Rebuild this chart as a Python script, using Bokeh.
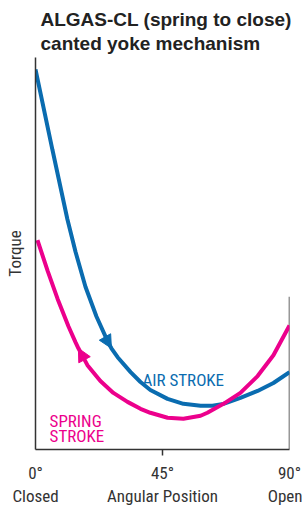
from bokeh.plotting import figure
from bokeh.models import Range1d, FixedTicker, Arrow, NormalHead, LinearAxis
from bokeh.core.properties import value
from bokeh.embed import file_html
from bokeh.resources import INLINE

# ---- data (angle in degrees, torque in arbitrary units) ----
air_angle = [0, 6.0, 11.3, 14.2, 17.7, 21.6, 25.9, 26.9, 29.1, 33.7, 37.2, 40.7,
             46.8, 52.4, 58.5, 62.7, 66.6, 72.6, 78.7, 84.3, 90]
air_torque = [383, 302, 232, 199, 164, 134, 107, 102, 93, 78, 68, 60,
              51, 46, 44, 44, 46, 52, 59, 67, 78]

spring_angle = [0.7, 4.3, 7.8, 11.7, 14.2, 15.2, 18.4, 23.0, 27.6, 32.6, 37.2, 40.7,
                46.8, 52.4, 58.5, 60.9, 66.6, 72.6, 78.7, 84.3, 90]
spring_torque = [211, 180, 152, 124, 108, 102, 85, 69, 57, 48, 41, 37,
                 32, 31, 34, 37, 46, 57, 74, 95, 125]

tick_positions = [0, 45, 90]
tick_degree_labels = ["0°", "45°", "90°"]
tick_name_labels = ["Closed", "Angular Position", "Open"]

title_text = "ALGAS-CL (spring to close)\ncanted yoke mechanism"
y_label = "Torque"
air_label = "AIR STROKE"
spring_label = ["SPRING", "STROKE"]

# ---- styling ----
BLUE = "#0a6cb0"
MAGENTA = "#ec008c"
DARK = "#333333"
NARROW = "Roboto Condensed, DejaVu Sans Condensed, Roboto"
TORQUE_MAX = 395
RIGHT_EDGE_TOP = 154

p = figure(width=302, height=508, output_backend="svg", toolbar_location=None,
           x_range=Range1d(0, 90), y_range=Range1d(0, TORQUE_MAX),
           min_border_left=35, min_border_right=13, min_border_top=57,
           min_border_bottom=56)
p.outline_line_color = None
p.xgrid.visible = False
p.ygrid.visible = False
p.background_fill_color = "white"
p.border_fill_color = "white"

# title
p.title.text = title_text
p.title.text_font = "Liberation Sans"
p.title.text_font_size = "19px"
p.title.text_font_style = "bold"
p.title.text_color = "#222222"
p.title.align = "left"
p.title.offset = 5
p.title.standoff = 6
p.title.text_line_height = 1.15

# x axis (degrees) with a single tick mark at 45
xa = p.xaxis[0]
xa.ticker = FixedTicker(ticks=tick_positions, minor_ticks=[45])
xa.major_label_overrides = {t: l for t, l in zip(tick_positions, tick_degree_labels)}
xa.major_tick_line_color = None
xa.major_tick_out = 0
xa.major_tick_in = 0
xa.minor_tick_line_color = DARK
xa.minor_tick_line_width = 1.5
xa.minor_tick_out = 6
xa.minor_tick_in = 0
xa.axis_line_color = DARK
xa.axis_line_width = 1.5
xa.major_label_text_font = NARROW
xa.major_label_text_font_size = "17px"
xa.major_label_text_color = DARK
xa.major_label_text_line_height = 1.0
xa.major_label_standoff = 7

# second row of x labels (names)
xa2 = LinearAxis(ticker=FixedTicker(ticks=tick_positions, minor_ticks=[]),
                 major_label_overrides={t: l for t, l in zip(tick_positions, tick_name_labels)})
xa2.axis_line_color = None
xa2.major_tick_line_color = None
xa2.minor_tick_line_color = None
xa2.major_tick_out = 0
xa2.major_tick_in = 0
xa2.minor_tick_out = 0
xa2.major_label_standoff = 0
xa2.major_label_text_font = NARROW
xa2.major_label_text_font_size = "17px"
xa2.major_label_text_color = DARK
xa2.major_label_text_line_height = 1.0
p.add_layout(xa2, "below")

# y axis
ya = p.yaxis[0]
ya.ticker = FixedTicker(ticks=[])
ya.major_tick_line_color = None
ya.minor_tick_line_color = None
ya.major_label_text_font_size = "0px"
ya.axis_line_color = DARK
ya.axis_line_width = 1.5
ya.axis_label = y_label
ya.axis_label_text_font = NARROW
ya.axis_label_text_font_size = "17px"
ya.axis_label_text_font_style = "normal"
ya.axis_label_text_color = DARK
ya.axis_label_standoff = 11

# right frame edge (partial)
p.segment(x0=[90], y0=[0], x1=[90], y1=[RIGHT_EDGE_TOP], line_color=DARK, line_width=1.5)

# curves
p.line(air_angle, air_torque, line_color=BLUE, line_width=4)
p.line(spring_angle, spring_torque, line_color=MAGENTA, line_width=4)

# direction arrows
ia = air_angle.index(26.9)
p.add_layout(Arrow(end=NormalHead(size=13, fill_color=BLUE, line_color=BLUE),
                   x_start=air_angle[ia - 1], y_start=air_torque[ia - 1],
                   x_end=air_angle[ia], y_end=air_torque[ia], line_alpha=0))
isp = spring_angle.index(15.2)
p.add_layout(Arrow(end=NormalHead(size=13, fill_color=MAGENTA, line_color=MAGENTA),
                   x_start=spring_angle[isp + 1], y_start=spring_torque[isp + 1],
                   x_end=spring_angle[isp], y_end=spring_torque[isp], line_alpha=0))

# labels
p.text(x=[37.9], y=[70], text=[air_label], text_color=BLUE,
       text_font=value(NARROW), text_font_size="17px", text_baseline="alphabetic")
p.text(x=[5.0, 5.0], y=[29, 14], text=spring_label, text_color=MAGENTA,
       text_font=value(NARROW), text_font_size="17px", text_baseline="alphabetic")

open("out.html", "w").write(file_html(p, INLINE))
